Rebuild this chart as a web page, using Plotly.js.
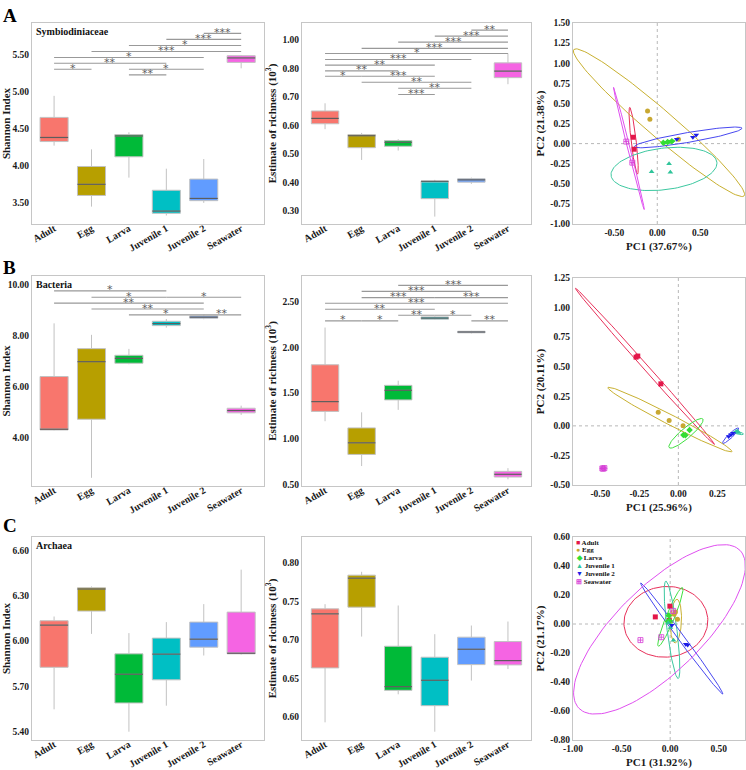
<!DOCTYPE html>
<html><head><meta charset="utf-8">
<script src="https://cdn.plot.ly/plotly-3.0.1.min.js"></script>
<style>html,body{margin:0;padding:0;background:#fff}</style>
</head><body><div id="chart" style="width:746px;height:770px"></div>
<script>
// ---------- categories & colours ----------
const groups = ['Adult','Egg','Larva','Juvenile 1','Juvenile 2','Seawater'];
const boxColors = ['#F8766D','#B79F00','#00BA38','#00BFC4','#619CFF','#F564E3'];
const pcaColors = ['#E3174A','#C8A832','#33DD33','#2FC49A','#1C1CE6','#D63ED6'];
const ellColors = ['#E8305A','#C8B030','#40E040','#3CC8A0','#4848F0','#E050F0'];
const pcaSymbols = ['square','circle','diamond','triangle-up','triangle-down','square-cross-open'];
const legendGlyphs = ['\u25A0','\u25CF','\u25C6','\u25B2','\u25BC','\u229E'];

// ---------- A: Symbiodiniaceae ----------
const symShanLow  = [4.27,3.45,3.84,3.33,3.50,5.31];
const symShanQ1   = [4.325,3.60,4.12,3.36,3.53,5.39];
const symShanMed  = [4.38,3.75,4.40,3.39,3.56,5.45];
const symShanQ3   = [4.65,3.99,4.42,3.67,3.82,5.48];
const symShanHigh = [4.94,4.22,4.45,3.96,4.09,5.49];
const symShanBrFrom = [4,3,2,1,0,0,0,2,2];
const symShanBrTo   = [5,5,5,5,4,3,1,4,3];
const symShanBrY    = [5.78,5.70,5.617,5.536,5.455,5.379,5.298,5.298,5.222];
const symShanBrLab  = ['***','***','*','***','*','**','*','*','**'];
const symShanTicks  = [3.5,4.0,4.5,5.0,5.5];

const symRichLow  = [0.587,0.479,0.512,0.280,0.395,0.745];
const symRichQ1   = [0.606,0.522,0.527,0.343,0.401,0.768];
const symRichMed  = [0.625,0.564,0.541,0.404,0.409,0.791];
const symRichQ3   = [0.651,0.568,0.547,0.405,0.413,0.820];
const symRichHigh = [0.678,0.574,0.552,0.409,0.417,0.853];
const symRichBrFrom = [4,3,2,1,0,0,0,0,0,1,1,2,2];
const symRichBrTo   = [5,5,5,5,5,4,3,2,1,3,4,4,3];
const symRichBrY    = [0.935,0.914,0.893,0.871,0.853,0.832,0.812,0.792,0.773,0.773,0.752,0.731,0.709];
const symRichBrLab  = ['**','***','***','***','*','***','**','**','*','***','**','**','***'];
const symRichTicks  = [0.3,0.4,0.5,0.6,0.7,0.8,0.9];
const symRichTickText = ['0.30','0.40','0.50','0.60','0.70','0.80','1.00'];

const pcaA_x = [[-0.28,-0.27],[-0.113,-0.086,0.246],[0.07,0.12,0.17],[-0.066,0.137,0.152],[0.227,0.414,0.453],[-0.36,-0.29]];
const pcaA_y = [[0.079,-0.07],[0.407,0.303,0.054],[0.01,0.02,0.03],[-0.35,-0.25,-0.357],[0.054,0.079,0.108],[0.025,-0.237]];
const ellA_cx = [-0.275,0.02,0.13,0.078,0.36,-0.33];
const ellA_cy = [0.035,0.26,0.02,-0.315,0.077,-0.06];
const ellA_ux = [0.045,0.99,0.08,0.615,0.625,0.178];
const ellA_uy = [-0.415,-0.91,0.015,0.083,0.114,-0.76];
const ellA_ratio = [0.075,0.12,0.2,0.39,0.09,0.02];

// ---------- B: Bacteria ----------
const bacShanLow  = [4.29,2.43,6.87,8.30,8.63,4.89];
const bacShanQ1   = [4.30,4.72,6.91,8.38,8.67,4.97];
const bacShanMed  = [4.33,6.97,7.10,8.46,8.71,5.06];
const bacShanQ3   = [6.39,7.48,7.22,8.55,8.76,5.15];
const bacShanHigh = [8.47,8.02,7.47,8.64,8.83,5.25];
const bacShanBrFrom = [0,1,3,0,1,2,4];
const bacShanBrTo   = [3,3,5,4,4,4,5];
const bacShanBrY    = [9.74,9.49,9.49,9.26,9.03,8.80,8.80];
const bacShanBrLab  = ['*','*','*','**','**','*','**'];
const bacShanTicks  = [4,6,8,10];

const bacRichLow  = [1.193,0.703,1.317,2.300,2.152,0.558];
const bacRichQ1   = [1.30,0.83,1.426,2.308,2.159,0.583];
const bacRichMed  = [1.407,0.957,1.531,2.32,2.168,0.613];
const bacRichQ3   = [1.81,1.12,1.585,2.333,2.176,0.645];
const bacRichHigh = [2.217,1.29,1.636,2.34,2.18,0.68];
const bacRichBrFrom = [2,1,1,3,0,0,2,3,0,1,4];
const bacRichBrTo   = [5,4,3,5,5,3,3,4,1,2,5];
const bacRichBrY    = [2.678,2.612,2.544,2.544,2.482,2.416,2.351,2.351,2.29,2.29,2.29];
const bacRichBrLab  = ['***','***','***','***','***','**','**','*','*','*','**'];
const bacRichTicks  = [0.5,1.0,1.5,2.0,2.5];

const pcaB_x = [[-0.271,-0.26,-0.112],[-0.129,-0.059,0.03],[0.032,0.045,0.072],[0.37,0.385,0.378],[0.322,0.337,0.35],[-0.487,-0.474,-0.481]];
const pcaB_y = [[0.581,0.59,0.355],[0.115,0.045,0.0],[-0.077,-0.08,-0.034],[-0.05,-0.057,-0.045],[-0.09,-0.076,-0.063],[-0.36,-0.357,-0.362]];
const ellB_cx = [-0.214,-0.054,0.049,0.385,0.335,-0.48];
const ellB_cy = [0.503,0.053,-0.063,-0.06,-0.083,-0.36];
const ellB_ux = [0.445,0.397,0.108,0.032,0.051,0.022];
const ellB_uy = [-0.66,-0.271,0.121,-0.01,0.064,0];
const ellB_ratio = [0.025,0.072,0.23,0.25,0.2,0.4];

// ---------- C: Archaea ----------
const arcShanLow  = [5.548,6.047,5.40,5.572,5.904,5.91];
const arcShanQ1   = [5.826,6.198,5.59,5.743,5.959,5.915];
const arcShanMed  = [6.105,6.344,5.78,5.913,6.012,5.919];
const arcShanQ3   = [6.134,6.352,5.915,6.019,6.125,6.191];
const arcShanHigh = [6.162,6.361,6.052,6.125,6.244,6.472];
const arcShanTicks = [5.4,5.7,6.0,6.3,6.6];

const arcRichLow  = [0.5926,0.7043,0.6291,0.5804,0.647,0.662];
const arcRichQ1   = [0.6635,0.7426,0.6343,0.6143,0.6678,0.6674];
const arcRichMed  = [0.7339,0.7804,0.6391,0.6474,0.6878,0.673];
const arcRichQ3   = [0.7404,0.7843,0.6917,0.6774,0.7035,0.6978];
const arcRichHigh = [0.7465,0.7887,0.7448,0.7074,0.7187,0.7239];
const arcRichTicks = [0.60,0.65,0.70,0.75,0.80];

const pcaC_x = [[-0.153,-0.003,-0.01],[0.054,0.075,0.041],[-0.014,-0.024,-0.005],[0.003,0.034,-0.02],[0.017,0.16,0.18],[-0.306,-0.092,0.031]];
const pcaC_y = [[0.049,0.123,0.024],[0.083,0.033,0.068],[0.058,0.017,0.02],[-0.024,-0.112,0.008],[-0.008,-0.139,-0.144],[-0.111,-0.091,0.09]];
const ellC_cx = [-0.044,0.06,0.002,0.019,0.119,-0.11];
const ellC_cy = [0.015,0.02,0.049,-0.04,-0.1,-0.037];
const ellC_ux = [0.43,0.01,0.124,0.063,0.422,0.828];
const ellC_uy = [0.03,0.15,0.202,-0.336,-0.383,0.545];
const ellC_ratio = [0.84,0.25,0.13,0.1,0.045,0.38];

// ---------- layout helpers ----------
const W = 746, H = 770;
const colX = [[32,264],[302,531],[573,745]];
const rowBoxY = [[23,224],[276,486],[537,740]];
const rowPcaY = [[23,224],[278,485],[537,740]];
const BW = 0.75;
const FONT = 'Liberation Serif';
const tickFont = {family:FONT, size:9.5, color:'#1a1a1a', weight:'bold'};
const titleFont = {family:FONT, size:11, color:'#1a1a1a', weight:'bold'};
const fmt = v => v.toFixed(2);

const traces = [], shapes = [], annotations = [];
const layout = {width:W, height:H, margin:{l:0,r:0,t:0,b:0}, paper_bgcolor:'#fff', plot_bgcolor:'#fff',
  showlegend:false, shapes, annotations};

const axRef = (k,t) => k===1 ? t : t+k;
const axKey = (k,t) => k===1 ? t+'axis' : t+'axis'+k;
const common = {showline:true, mirror:true, linecolor:'#c6c6c6', linewidth:1, showgrid:false, zeroline:false,
  ticks:'', tickfont:tickFont, fixedrange:true, automargin:false};

function boxPanel(k, col, row, xr, yr, yTicks, yTickText, low, q1, med, q3, high, br, yTitle) {
  const xa = axRef(k,'x'), ya = axRef(k,'y');
  for (let i=0;i<groups.length;i++) {
    traces.push({type:'box', x:[i], q1:[q1[i]], median:[med[i]], q3:[q3[i]],
      lowerfence:[low[i]], upperfence:[high[i]], xaxis:xa, yaxis:ya,
      fillcolor:boxColors[i], line:{color:'#c2c2c2', width:1}, whiskerwidth:0, width:BW,
      boxpoints:false, hoverinfo:'skip', showlegend:false, name:groups[i]});
  }
  const mx=[], my=[];
  for (let i=0;i<groups.length;i++){ mx.push(i-BW/2, i+BW/2, null); my.push(med[i], med[i], null); }
  traces.push({type:'scatter', mode:'lines', x:mx, y:my, xaxis:xa, yaxis:ya,
    line:{color:'rgba(60,60,60,0.75)', width:1.2}, hoverinfo:'skip', showlegend:false});
  layout[axKey(k,'x')] = Object.assign({}, common, {domain:[colX[col][0]/W, colX[col][1]/W], range:xr, anchor:ya,
    tickmode:'array', tickvals:groups.map((g,i)=>i), ticktext:groups, tickangle:-30, ticklabelstandoff:-6,
    tickfont:{family:FONT, size:10, color:'#1a1a1a', weight:'bold'}});
  layout[axKey(k,'y')] = Object.assign({}, common, {domain:[1-rowBoxY[row][1]/H, 1-rowBoxY[row][0]/H], range:yr, anchor:xa,
    tickmode:'array', tickvals:yTicks, ticktext:yTickText || yTicks.map(fmt),
    title:{text:yTitle, font:titleFont, standoff:3}});
  if (br) {
    for (let j=0;j<br.from.length;j++) {
      shapes.push({type:'line', xref:xa, yref:ya, x0:br.from[j], x1:br.to[j], y0:br.y[j], y1:br.y[j],
        line:{color:'#999', width:1.1}});
      annotations.push({xref:xa, yref:ya, x:(br.from[j]+br.to[j])/2, y:br.y[j], text:br.lab[j], showarrow:false,
        font:{family:'DejaVu Sans', size:11, color:'#5c5c5c'}, yanchor:'middle', xanchor:'center', yshift:1});
    }
  }
}

function pcaPanel(k, col, row, xr, yr, xTicks, yTicks, px, py, ell, xTitle, yTitle) {
  const xa = axRef(k,'x'), ya = axRef(k,'y');
  const wpx = colX[col][1]-colX[col][0], hpx = rowPcaY[row][1]-rowPcaY[row][0];
  const sx = wpx/(xr[1]-xr[0]), sy = hpx/(yr[1]-yr[0]);
  shapes.push({type:'line', xref:xa, yref:ya+' domain', x0:0, x1:0, y0:0, y1:1, line:{color:'#b8b8b8', width:1, dash:'dot'}, layer:'below'});
  shapes.push({type:'line', xref:xa+' domain', yref:ya, x0:0, x1:1, y0:0, y1:0, line:{color:'#b8b8b8', width:1, dash:'dot'}, layer:'below'});
  for (let g=0; g<groups.length; g++) {
    // ellipse from centre, half-major vector and minor/major ratio (ratio taken in pixel space)
    const ux = ell.ux[g], uy = ell.uy[g];
    const qx = -uy*sy*ell.ratio[g]/sx, qy = ux*sx*ell.ratio[g]/sy;
    const ex=[], ey=[];
    for (let s=0; s<=120; s++) { const t = 2*Math.PI*s/120;
      ex.push(ell.cx[g] + ux*Math.cos(t) + qx*Math.sin(t));
      ey.push(ell.cy[g] + uy*Math.cos(t) + qy*Math.sin(t)); }
    traces.push({type:'scatter', mode:'lines', x:ex, y:ey, xaxis:xa, yaxis:ya,
      line:{color:ellColors[g], width:1}, hoverinfo:'skip', showlegend:false});
  }
  for (let g=0; g<groups.length; g++) {
    traces.push({type:'scatter', mode:'markers', x:px[g], y:py[g], xaxis:xa, yaxis:ya, name:groups[g],
      marker:{symbol:pcaSymbols[g], size: g===5?5:5, color:pcaColors[g], line:{width: g===5?0.8:0, color:pcaColors[g]}},
      hoverinfo:'skip', showlegend:false});
  }
  layout[axKey(k,'x')] = Object.assign({}, common, {domain:[colX[col][0]/W, colX[col][1]/W], range:xr, anchor:ya,
    tickmode:'array', tickvals:xTicks, ticktext:xTicks.map(fmt),
    title:{text:xTitle, font:{family:FONT, size:11, color:'#1a1a1a', weight:'bold'}, standoff:4}});
  layout[axKey(k,'y')] = Object.assign({}, common, {domain:[1-rowPcaY[row][1]/H, 1-rowPcaY[row][0]/H], range:yr, anchor:xa,
    tickmode:'array', tickvals:yTicks, ticktext:yTicks.map(fmt),
    title:{text:yTitle, font:{family:FONT, size:11, color:'#1a1a1a', weight:'bold'}, standoff:3}});
}

const richTitle = 'Estimate of richness (10<sup>3</sup>)';
boxPanel(1,0,0,[-0.59,5.61],[3.216,5.92],symShanTicks,null,symShanLow,symShanQ1,symShanMed,symShanQ3,symShanHigh,
  {from:symShanBrFrom,to:symShanBrTo,y:symShanBrY,lab:symShanBrLab},'Shannon Index');
boxPanel(2,1,0,[-0.63,5.63],[0.254,0.96],symRichTicks,symRichTickText,symRichLow,symRichQ1,symRichMed,symRichQ3,symRichHigh,
  {from:symRichBrFrom,to:symRichBrTo,y:symRichBrY,lab:symRichBrLab},richTitle);
boxPanel(4,0,1,[-0.59,5.61],[2.11,10.32],bacShanTicks,null,bacShanLow,bacShanQ1,bacShanMed,bacShanQ3,bacShanHigh,
  {from:bacShanBrFrom,to:bacShanBrTo,y:bacShanBrY,lab:bacShanBrLab},'Shannon Index');
boxPanel(5,1,1,[-0.63,5.63],[0.485,2.78],bacRichTicks,null,bacRichLow,bacRichQ1,bacRichMed,bacRichQ3,bacRichHigh,
  {from:bacRichBrFrom,to:bacRichBrTo,y:bacRichBrY,lab:bacRichBrLab},richTitle);
boxPanel(7,0,2,[-0.59,5.61],[5.345,6.688],arcShanTicks,null,arcShanLow,arcShanQ1,arcShanMed,arcShanQ3,arcShanHigh,null,'Shannon Index');
boxPanel(8,1,2,[-0.63,5.63],[0.5696,0.834],arcRichTicks,null,arcRichLow,arcRichQ1,arcRichMed,arcRichQ3,arcRichHigh,null,richTitle);

pcaPanel(3,2,0,[-0.98,1.02],[-1,1.5],[-0.5,0,0.5],[-1,-0.75,-0.5,-0.25,0,0.25,0.5,0.75,1,1.25,1.5],pcaA_x,pcaA_y,
  {cx:ellA_cx,cy:ellA_cy,ux:ellA_ux,uy:ellA_uy,ratio:ellA_ratio},'PC1 (37.67%)','PC2 (21.38%)');
pcaPanel(6,2,1,[-0.675,0.427],[-0.5,1.25],[-0.5,-0.25,0,0.25],[-0.5,-0.25,0,0.25,0.5,0.75,1,1.25],pcaB_x,pcaB_y,
  {cx:ellB_cx,cy:ellB_cy,ux:ellB_ux,uy:ellB_uy,ratio:ellB_ratio},'PC1 (25.96%)','PC2 (20.11%)');
pcaPanel(9,2,2,[-1.0,0.77],[-0.8,0.6],[-1,-0.5,0,0.5],[-0.8,-0.6,-0.4,-0.2,0,0.2,0.4,0.6],pcaC_x,pcaC_y,
  {cx:ellC_cx,cy:ellC_cy,ux:ellC_ux,uy:ellC_uy,ratio:ellC_ratio},'PC1 (31.92%)','PC2 (21.17%)');

// panel letters and taxon labels
const panelLetters = ['A','B','C'];
const taxa = ['Symbiodiniaceae','Bacteria','Archaea'];
const letterTop = [3, 255, 513];
for (let r=0;r<3;r++) {
  annotations.push({xref:'paper', yref:'paper', x:1/W, y:1-letterTop[r]/H, xanchor:'left', yanchor:'top',
    text:panelLetters[r], showarrow:false, font:{family:FONT, size:19, color:'#000', weight:'bold'}});
  annotations.push({xref:'paper', yref:'paper', x:34/W, y:1-(rowBoxY[r][0]+1)/H, xanchor:'left', yanchor:'top',
    text:taxa[r], showarrow:false, font:{family:FONT, size:10, color:'#111', weight:'bold'}});
}
// legend of the Archaea PCA
for (let g=0; g<groups.length; g++) {
  annotations.push({xref:'paper', yref:'paper', x:574/W, y:1-(542.5+7.8*g)/H, xanchor:'left', yanchor:'middle',
    text:'<span style="color:'+pcaColors[g]+'">'+legendGlyphs[g]+'</span> '+groups[g], showarrow:false,
    font:{family:FONT, size:7, color:'#111', weight:'bold'}});
}

Plotly.newPlot('chart', traces, layout, {staticPlot:true, displayModeBar:false});
</script></body></html>
